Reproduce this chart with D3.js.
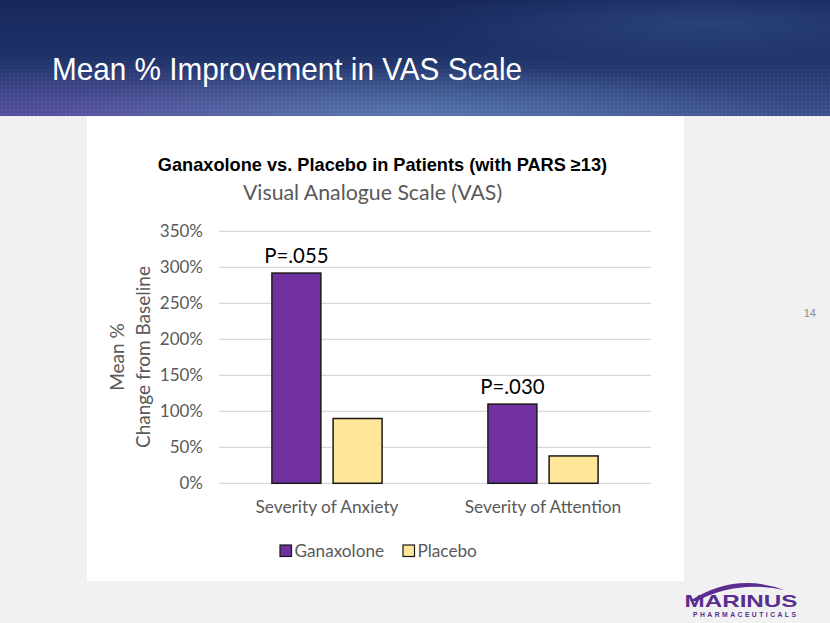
<!DOCTYPE html>
<html><head><meta charset="utf-8">
<script src="https://cdn.jsdelivr.net/npm/d3@7"></script>
<style>html,body{margin:0;padding:0;background:#f1f1f1;}svg{display:block;}</style>
</head><body>
<script>
const categories = ["Severity of Anxiety", "Severity of Attention"];
const seriesNames = ["Ganaxolone", "Placebo"];
const ganaxolone = [2.92, 1.10];
const placebo = [0.90, 0.38];
const pLabels = ["P=.055", "P=.030"];
const yTicks = [0, 0.5, 1, 1.5, 2, 2.5, 3, 3.5];
const colors = ["#7030a0", "#ffe699"];

(function(){
const W = 830, H = 623;
const svg = d3.select("body").append("svg").attr("width", W).attr("height", H);
const defs = svg.append("defs");

// background
svg.append("rect").attr("width",W).attr("height",H).attr("fill","#f1f1f1");

// header
const hg = defs.append("linearGradient").attr("id","hg").attr("x1",0).attr("y1",0).attr("x2",0).attr("y2",1);
hg.append("stop").attr("offset","0%").attr("stop-color","#17275b");
hg.append("stop").attr("offset","50%").attr("stop-color","#1f3369");
hg.append("stop").attr("offset","100%").attr("stop-color","#3c4f8e");
svg.append("rect").attr("width",W).attr("height",116).attr("fill","url(#hg)");
const rg = defs.append("radialGradient").attr("id","rg").attr("cx","0.1").attr("cy","1").attr("r","0.45");
rg.append("stop").attr("offset","0%").attr("stop-color","#6a4fa8").attr("stop-opacity",0.55);
rg.append("stop").attr("offset","100%").attr("stop-color","#6a4fa8").attr("stop-opacity",0);
svg.append("rect").attr("width",W).attr("height",116).attr("fill","url(#rg)");
const rg2 = defs.append("radialGradient").attr("id","rg2").attr("cx","0.5").attr("cy","1").attr("r","0.45");
rg2.append("stop").attr("offset","0%").attr("stop-color","#6a93c4").attr("stop-opacity",0.55);
rg2.append("stop").attr("offset","100%").attr("stop-color","#6a93c4").attr("stop-opacity",0);
svg.append("rect").attr("width",W).attr("height",116).attr("fill","url(#rg2)");
const rg3 = defs.append("radialGradient").attr("id","rg3").attr("cx","0.85").attr("cy","0.2").attr("r","0.35");
rg3.append("stop").attr("offset","0%").attr("stop-color","#3a5a92").attr("stop-opacity",0.5);
rg3.append("stop").attr("offset","100%").attr("stop-color","#3a5a92").attr("stop-opacity",0);
svg.append("rect").attr("width",W).attr("height",116).attr("fill","url(#rg3)");
const pat = defs.append("pattern").attr("id","dots").attr("width",4).attr("height",4).attr("patternUnits","userSpaceOnUse");
pat.append("circle").attr("cx",2).attr("cy",2).attr("r",0.9).attr("fill","#ffffff").attr("opacity",0.12);
const fadeG = defs.append("linearGradient").attr("id","fade").attr("x1",0).attr("y1",0).attr("x2",0).attr("y2",1);
fadeG.append("stop").attr("offset","0%").attr("stop-color","#fff").attr("stop-opacity",0);
fadeG.append("stop").attr("offset","100%").attr("stop-color","#fff").attr("stop-opacity",1);
const mask = defs.append("mask").attr("id","fm");
mask.append("rect").attr("y",40).attr("width",W).attr("height",76).attr("fill","url(#fade)");
svg.append("rect").attr("y",40).attr("width",W).attr("height",76).attr("fill","url(#dots)").attr("mask","url(#fm)");

svg.append("text").attr("x",52).attr("y",80)
  .attr("font-family","'Liberation Sans', Arial, sans-serif").attr("font-size",32)
  .attr("textLength",470).attr("lengthAdjust","spacingAndGlyphs")
  .attr("fill","#ffffff")
  .text("Mean % Improvement in VAS Scale");

// white chart panel
svg.append("rect").attr("x",87).attr("y",116).attr("width",597).attr("height",465).attr("fill","#ffffff");

svg.append("text").attr("x",382.5).attr("y",171).attr("text-anchor","middle")
  .attr("font-family","'Liberation Sans', Arial, sans-serif").attr("font-weight","bold").attr("font-size",18.2)
  .attr("fill","#000").text("Ganaxolone vs. Placebo in Patients (with PARS \u226513)");

const font = "Lato, 'Open Sans', sans-serif";
svg.append("text").attr("x",372.5).attr("y",200).attr("text-anchor","middle")
  .attr("font-family",font).attr("font-size",21.3).attr("fill","#595959")
  .text("Visual Analogue Scale (VAS)");

// page number
svg.append("text").attr("x",816).attr("y",317).attr("text-anchor","end")
  .attr("font-family","'Liberation Sans', Arial, sans-serif").attr("font-size",11).attr("fill","#8c8c8c").text("14");

// chart
const pl = 219, pr = 651, pt = 231.3, pb = 483.3;
const y = d3.scaleLinear().domain([0, 3.5]).range([pb, pt]);
const x0 = d3.scaleBand().domain(categories).range([pl, pr]).paddingInner(0.49).paddingOuter(0.245);
const x1 = d3.scaleBand().domain(seriesNames).range([0, x0.bandwidth()]).paddingInner(0.2).paddingOuter(0);

const grid = svg.append("g");
grid.selectAll("line").data(yTicks).join("line")
  .attr("x1",pl).attr("x2",pr).attr("y1",d=>y(d)).attr("y2",d=>y(d))
  .attr("stroke","#d9d9d9").attr("stroke-width",1.3);

const yAxis = d3.axisLeft(y).tickValues(yTicks).tickFormat(d3.format(".0%")).tickSize(0).tickPadding(16);
const ya = svg.append("g").attr("transform",`translate(${pl},0)`).call(yAxis);
ya.select(".domain").remove();
ya.selectAll("text").attr("font-family",font).attr("font-size",17).attr("fill","#595959");

const data = categories.map((c,i)=>({cat:c, vals:[ganaxolone[i], placebo[i]], p:pLabels[i]}));
const groups = svg.append("g").selectAll("g").data(data).join("g")
  .attr("transform", d=>`translate(${x0(d.cat)},0)`);
groups.selectAll("rect").data(d=>d.vals.map((v,j)=>({v, s:seriesNames[j], j})))
  .join("rect")
  .attr("x", d=>x1(d.s)).attr("width", x1.bandwidth())
  .attr("y", d=>y(d.v)).attr("height", d=>pb - y(d.v))
  .attr("fill", d=>colors[d.j]).attr("stroke","#1a1a1a").attr("stroke-width",1.5);
groups.append("text")
  .attr("x", x1(seriesNames[0]) + x1.bandwidth()/2)
  .attr("y", d=>y(d.vals[0]) - 10)
  .attr("text-anchor","middle").attr("font-family",font).attr("font-size",20.4).attr("fill","#000")
  .text(d=>d.p);

const xAxis = d3.axisBottom(x0).tickSize(0).tickPadding(17);
const xa = svg.append("g").attr("transform",`translate(0,${pb})`).call(xAxis);
xa.select(".domain").remove();
xa.selectAll("text").attr("font-family",font).attr("font-size",17.3).attr("fill","#595959");

// y label
const yl = svg.append("text").attr("transform","translate(0,357) rotate(-90)")
  .attr("text-anchor","middle").attr("font-family",font).attr("font-size",19).attr("fill","#595959");
yl.append("tspan").attr("x",0).attr("y",124).text("Mean %");
yl.append("tspan").attr("x",0).attr("y",150).text("Change from Baseline");

// legend
const legX = [280, 403];
const lg = svg.append("g").selectAll("g").data(seriesNames).join("g")
  .attr("transform",(d,i)=>`translate(${legX[i]},545)`);
lg.append("rect").attr("width",11.5).attr("height",11.5).attr("fill",(d,i)=>colors[i]).attr("stroke","#1a1a1a").attr("stroke-width",1.2);
lg.append("text").attr("x",14.5).attr("y",11.5).attr("font-family",font).attr("font-size",17.2).attr("fill","#595959").text(d=>d);

// logo
const logo = svg.append("g");
logo.append("path").attr("d","M690,601 Q735,572 784,590 Q737,580 697,601 Z").attr("fill","#5b2d90");
logo.append("text").attr("x",741).attr("y",606.5).attr("text-anchor","middle")
  .attr("font-family","'Liberation Sans', Arial, sans-serif").attr("font-weight","bold").attr("font-size",17)
  .attr("textLength",113).attr("lengthAdjust","spacingAndGlyphs")
  .attr("fill","#5b2d90").text("MARINUS");
logo.append("text").attr("x",744.5).attr("y",616.5).attr("text-anchor","middle")
  .attr("font-family","'Liberation Sans', Arial, sans-serif").attr("font-weight","bold").attr("font-size",6.8)
  .attr("textLength",103).attr("lengthAdjust","spacing")
  .attr("fill","#5b2d90").text("PHARMACEUTICALS");
})();
</script>
</body></html>
